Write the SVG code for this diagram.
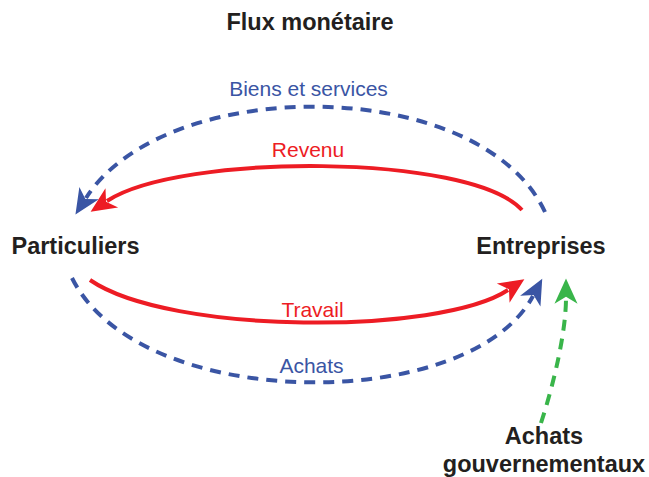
<svg xmlns="http://www.w3.org/2000/svg" width="649" height="477" viewBox="0 0 649 477">
<style>
.t{font-family:"Liberation Sans",Arial,sans-serif}
.b{font-weight:bold;font-size:23.5px;fill:#231f20}
.lbl{font-size:21px}
.blue{fill:#3a55a4}
.red{fill:#ed1c24}
.sb{fill:none;stroke:#3a55a4;stroke-width:4;stroke-dasharray:11 8}
.sr{fill:none;stroke:#ed1c24;stroke-width:4}
.sg{fill:none;stroke:#39b54a;stroke-width:4;stroke-dasharray:11 8}
</style>
<defs>
<marker id="ab" markerUnits="userSpaceOnUse" markerWidth="30" markerHeight="30" viewBox="-2 -12 26 24" refX="5" refY="0" orient="auto"><path d="M0,-10 L22,0 L0,10 L6,0 Z" fill="#3a55a4"/></marker>
<marker id="ar" markerUnits="userSpaceOnUse" markerWidth="30" markerHeight="30" viewBox="-2 -12 26 24" refX="5" refY="0" orient="auto"><path d="M0,-10 L22,0 L0,10 L6,0 Z" fill="#ed1c24"/></marker>
<marker id="ag" markerUnits="userSpaceOnUse" markerWidth="30" markerHeight="30" viewBox="-2 -12 26 24" refX="5" refY="0" orient="auto"><path d="M0,-10 L22,0 L0,10 L6,0 Z" fill="#39b54a"/></marker>
</defs>
<text class="t b" x="310" y="30" text-anchor="middle">Flux monétaire</text>
<g id="particuliers"><text class="t b" x="75.5" y="254" text-anchor="middle">Particuliers</text></g>
<g id="entreprises"><text class="t b" x="541" y="254" text-anchor="middle">Entreprises</text></g>
<g id="gouv"><text class="t b" x="544" y="444" text-anchor="middle">Achats</text><text class="t b" x="544" y="472" text-anchor="middle">gouvernementaux</text></g>
<g id="connectors">
<path class="sb" d="M545,212 C480,74 165,74 86,198" marker-end="url(#ab)"/>
<path class="sr" d="M522,210 C470,153 180,153 107,201" marker-end="url(#ar)"/>
<path class="sr" d="M90,280 C170,335 440,335 508,290" marker-end="url(#ar)"/>
<path class="sb" d="M72,278 C140,414 470,414 533,296" marker-end="url(#ab)"/>
<path class="sg" d="M541,423 C555,380 566,330 566,298" marker-end="url(#ag)"/>
<text class="t lbl blue" x="308.5" y="96" text-anchor="middle">Biens et services</text>
<text class="t lbl red" x="308" y="157" text-anchor="middle">Revenu</text>
<text class="t lbl red" x="312.5" y="317" text-anchor="middle">Travail</text>
<text class="t lbl blue" x="311.5" y="373" text-anchor="middle">Achats</text>
</g>
</svg>
